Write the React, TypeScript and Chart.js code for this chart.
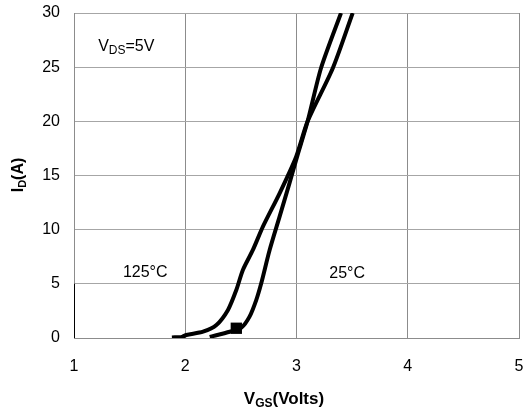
import React, { useEffect, useRef } from "react";
import { Chart, registerables } from "chart.js";

Chart.register(...registerables);

const FONT = "'Liberation Sans', Arial, Helvetica, sans-serif";

// 125°C curve (V_GS, I_D)
const vgs125 = [1.88, 1.97, 2.01, 2.16, 2.28, 2.384, 2.459, 2.518, 2.608, 2.698, 2.848, 2.997, 3.1, 3.326, 3.505];
const id125 = [0.05, 0.1, 0.28, 0.58, 1.2, 2.59, 4.43, 6.28, 8.13, 10.28, 13.36, 16.74, 20.0, 24.9, 30.0];

// 25°C curve
const vgs25 = [2.22, 2.4, 2.504, 2.578, 2.638, 2.683, 2.758, 2.848, 2.937, 3.01, 3.1, 3.22, 3.4];
const id25 = [0.1, 0.58, 0.95, 1.97, 3.5, 5.05, 8.1, 11.2, 14.3, 16.9, 20.0, 24.9, 30.0];

// square marker on the 25°C curve
const markerV = [2.459];
const markerI = [0.9];

// left axis segment
const segV = [1, 1];
const segI = [0, 5];

const xTicks = [1, 2, 3, 4, 5];
const yTicks = [0, 5, 10, 15, 20, 25, 30];

type Seg = { t: string; size: number; bold?: boolean; dy?: number };

function drawRich(ctx: CanvasRenderingContext2D, segs: Seg[], cx: number, cy: number, rotate = 0, mainSize = 16) {
  ctx.save();
  ctx.translate(cx, cy);
  if (rotate) ctx.rotate(rotate);
  let total = 0;
  const widths = segs.map((s) => {
    ctx.font = `${s.bold ? "bold " : ""}${s.size}px ${FONT}`;
    const w = ctx.measureText(s.t).width;
    total += w;
    return w;
  });
  let x = -total / 2;
  ctx.fillStyle = "#000";
  ctx.textBaseline = "alphabetic";
  ctx.textAlign = "left";
  segs.forEach((s, i) => {
    ctx.font = `${s.bold ? "bold " : ""}${s.size}px ${FONT}`;
    ctx.fillText(s.t, x, mainSize * 0.36 + (s.dy || 0));
    x += widths[i];
  });
  ctx.restore();
}

const annotations = {
  id: "annotations",
  afterDraw(chart: any) {
    const ctx = chart.ctx as CanvasRenderingContext2D;
    const xs = chart.scales.x;
    const ys = chart.scales.y;
    drawRich(ctx, [
      { t: "V", size: 16 },
      { t: "DS", size: 12, dy: 3 },
      { t: "=5V", size: 16 },
    ], xs.getPixelForValue(1.47), ys.getPixelForValue(27.05));
    drawRich(ctx, [{ t: "125°C", size: 16 }], xs.getPixelForValue(1.64), ys.getPixelForValue(6.2));
    drawRich(ctx, [{ t: "25°C", size: 16 }], xs.getPixelForValue(3.455), ys.getPixelForValue(6.07));
    // axis titles
    drawRich(ctx, [
      { t: "V", size: 17, bold: true },
      { t: "GS", size: 12, bold: true, dy: 3 },
      { t: "(Volts)", size: 17, bold: true },
    ], 284, 398, 0, 17);
    drawRich(ctx, [
      { t: "I", size: 16, bold: true },
      { t: "D", size: 11, bold: true, dy: 3 },
      { t: "(A)", size: 16, bold: true },
    ], 17, 175, -Math.PI / 2, 16);
  },
};

export default function App() {
  const ref = useRef<HTMLCanvasElement>(null);
  useEffect(() => {
    if (!ref.current) return;
    const toPts = (xs: number[], ys: number[]) => xs.map((x, i) => ({ x, y: ys[i] }));
    const chart = new Chart(ref.current, {
      type: "scatter",
      data: {
        datasets: [
          {
            label: "125°C",
            data: toPts(vgs125, id125),
            showLine: true,
            borderColor: "#000",
            borderWidth: 4,
            pointRadius: 0,
            tension: 0.25,
          },
          {
            label: "25°C",
            data: toPts(vgs25, id25),
            showLine: true,
            borderColor: "#000",
            borderWidth: 4,
            pointRadius: 0,
            tension: 0.25,
          },
          {
            label: "marker",
            data: toPts(markerV, markerI),
            showLine: false,
            pointStyle: "rect",
            pointRadius: 8,
            backgroundColor: "#000",
            borderColor: "#000",
            borderWidth: 0,
          },
          {
            label: "seg",
            data: toPts(segV, segI),
            showLine: true,
            borderColor: "#000",
            borderWidth: 2,
            pointRadius: 0,
          },
        ],
      },
      options: {
        animation: false,
        responsive: false,
        devicePixelRatio: 1,
        layout: { padding: { top: 13, right: 7, left: 0, bottom: 0 } },
        plugins: { legend: { display: false }, tooltip: { enabled: false } },
        scales: {
          x: {
            type: "linear",
            min: 1,
            max: 5,
            afterBuildTicks: (s: any) => {
              s.ticks = xTicks.map((v) => ({ value: v }));
            },
            afterFit: (s: any) => {
              s.height = 73;
              s.paddingLeft = 0;
              s.paddingRight = 0;
              s.paddingTop = 0;
              s.paddingBottom = 0;
            },
            ticks: { font: { family: FONT, size: 16 }, color: "#000", padding: 19 },
            grid: { color: "#8c8c8c", lineWidth: 1, drawTicks: false },
            border: { display: true, color: "#8c8c8c" },
          },
          y: {
            type: "linear",
            min: 0,
            max: 30,
            afterBuildTicks: (s: any) => {
              s.ticks = yTicks.map((v) => ({ value: v }));
            },
            afterFit: (s: any) => {
              s.width = 74;
              s.paddingLeft = 0;
              s.paddingRight = 0;
              s.paddingTop = 0;
              s.paddingBottom = 0;
            },
            ticks: { font: { family: FONT, size: 16 }, color: "#000", padding: 14 },
            grid: { color: "#a6a6a6", lineWidth: 1, drawTicks: false },
            border: { display: true, color: "#8c8c8c" },
          },
        },
      },
      plugins: [annotations],
    });
    return () => chart.destroy();
  }, []);
  return (
    <div style={{ position: "fixed", left: 0, top: 0, width: 527, height: 411, background: "#fff" }}>
      <canvas ref={ref} width={527} height={411} />
    </div>
  );
}
